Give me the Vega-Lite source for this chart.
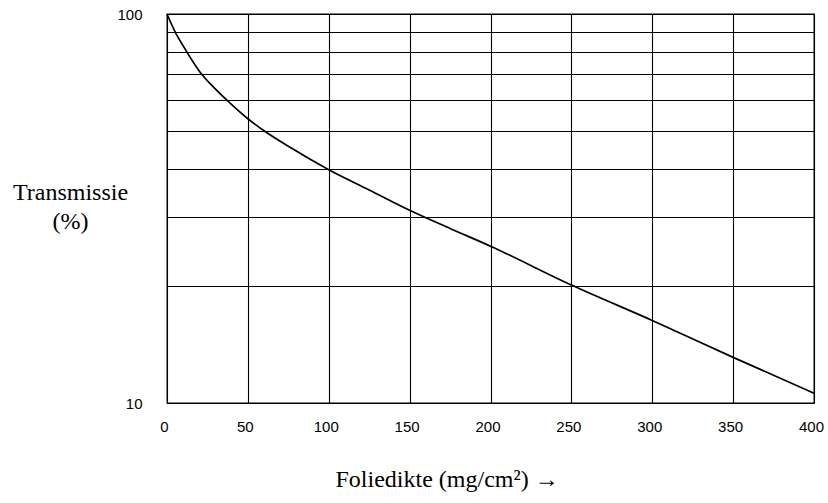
{
  "$schema": "https://vega.github.io/schema/vega-lite/v6.json",
  "width": 647,
  "height": 389,
  "autosize": "none",
  "padding": {"left": 167, "top": 14, "right": 14, "bottom": 100},
  "background": "white",
  "config": {
    "view": {"stroke": "black", "strokeWidth": 1.3},
    "axis": {"labelFont": "Liberation Sans", "labelFontSize": 15, "labelColor": "black", "titleColor": "black", "titleFont": "Liberation Serif", "titleFontWeight": "normal", "titleFontSize": 24, "domain": false, "ticks": false, "gridColor": "black", "gridOpacity": 1, "gridWidth": 1.1}
  },
  "data": {
    "values": [
      {"x": 0, "t": 100},
      {"x": 5, "t": 90},
      {"x": 10, "t": 82.8},
      {"x": 20, "t": 71.3},
      {"x": 30, "t": 64.1},
      {"x": 40, "t": 58.5},
      {"x": 50, "t": 53.8},
      {"x": 60, "t": 50.1},
      {"x": 75, "t": 45.7},
      {"x": 100, "t": 39.8},
      {"x": 125, "t": 35.3},
      {"x": 150, "t": 31.3},
      {"x": 175, "t": 28.1},
      {"x": 200, "t": 25.3},
      {"x": 250, "t": 20.1},
      {"x": 300, "t": 16.3},
      {"x": 350, "t": 13.1},
      {"x": 400, "t": 10.6}
    ]
  },
  "mark": {"type": "line", "color": "black", "strokeWidth": 1.7, "interpolate": "monotone"},
  "encoding": {
    "x": {
      "field": "x", "type": "quantitative",
      "scale": {"domain": [0, 400], "nice": false},
      "axis": {"values": [0, 50, 100, 150, 200, 250, 300, 350, 400], "labelPadding": 16, "labelFlush": false, "labelOffset": -3,
        "title": "Foliedikte (mg/cm²)  →", "titleX": 168, "titleAlign": "left", "titleY": 83, "titleBaseline": "alphabetic"}
    },
    "y": {
      "field": "t", "type": "quantitative",
      "scale": {"type": "log", "domain": [10, 100], "nice": false},
      "axis": {"values": [10, 20, 30, 40, 50, 60, 70, 80, 90, 100], "labelPadding": 25,
        "labelExpr": "datum.value == 10 || datum.value == 100 ? format(datum.value, 'd') : ''",
        "title": ["Transmissie", "(%)"], "titleAngle": 0, "titleAlign": "center", "titleBaseline": "alphabetic",
        "titleX": -97, "titleY": 185, "titleLineHeight": 29}
    }
  }
}
